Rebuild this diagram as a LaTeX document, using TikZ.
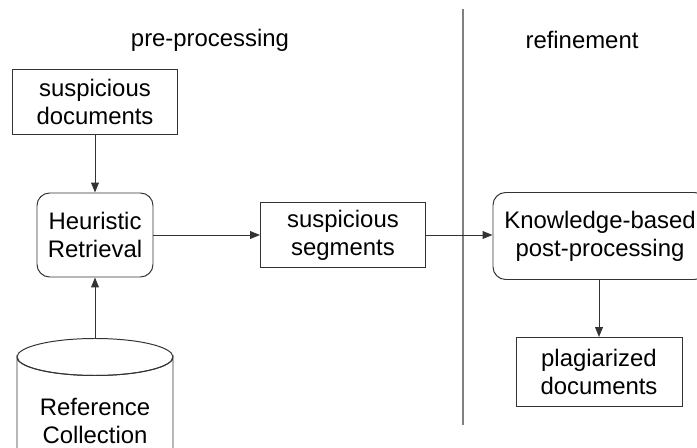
\documentclass[tikz,border=0pt]{standalone}
\usepackage{fontspec}
\setmainfont{Liberation Sans}
\usepackage{tikz}
\usetikzlibrary{arrows.meta, positioning}

\begin{document}
\begin{tikzpicture}[
    font=\fontsize{17}{20}\selectfont,
    box/.style={rectangle, draw=black!80, line width=0.7pt, align=center, inner sep=0pt},
    roundbox/.style={box, rounded corners=9pt},
    arrow/.style={-{Triangle[length=7pt, width=5.5pt]}, line width=0.7pt, black!80}
]
    \useasboundingbox (0,0) rectangle (17.425,11.2);
    \clip (0,0) rectangle (17.425,11.2);

    \node (pre) at (5.25,10.2) {pre-processing};
    \node (ref) at (14.55,10.2) {refinement};
    \coordinate (septop) at (11.575,10.975);
    \coordinate (sepbot) at (11.575,0.575);
    \draw[line width=1.2pt, gray] (septop) -- (sepbot);

    \node[box, minimum width=4.125cm, minimum height=1.625cm] (susdocs) at (2.375,8.65) {suspicious\\documents};
    \node[roundbox, minimum width=2.9cm, minimum height=2.1cm] (heur) at (2.375,5.325) {Heuristic\\Retrieval};
    \node[box, minimum width=4.125cm, minimum height=1.625cm] (sussegs) at (8.575,5.325) {suspicious\\segments};
    \node[roundbox, minimum width=5.35cm, minimum height=2.175cm] (know) at (15,5.3) {Knowledge-based\\post-processing};
    \node[box, minimum width=4.15cm, minimum height=1.725cm] (plag) at (14.975,1.9) {plagiarized\\documents};

    % reference collection (cylinder, cut by the page edge)
    \draw[black!80, line width=0.7pt] (0.425,-0.5) -- (0.425,2.275)
        arc[start angle=180, end angle=360, x radius=1.95, y radius=0.4625] -- (4.325,-0.5);
    \draw[black!80, line width=0.7pt] (2.375,2.275) ellipse [x radius=1.95, y radius=0.4625];
    \coordinate (colltop) at (2.375,2.7375);
    \node[align=center] (coll) at (2.375,0.675) {Reference\\Collection};

    \draw[arrow] (susdocs) -- (heur);
    \draw[arrow] (colltop) -- (heur);
    \draw[arrow] (heur.east |- sussegs) -- (sussegs);
    \draw[arrow] (sussegs) -- (know.west |- sussegs);
    \draw[arrow] (know.south -| plag) -- (plag);
\end{tikzpicture}
\end{document}
